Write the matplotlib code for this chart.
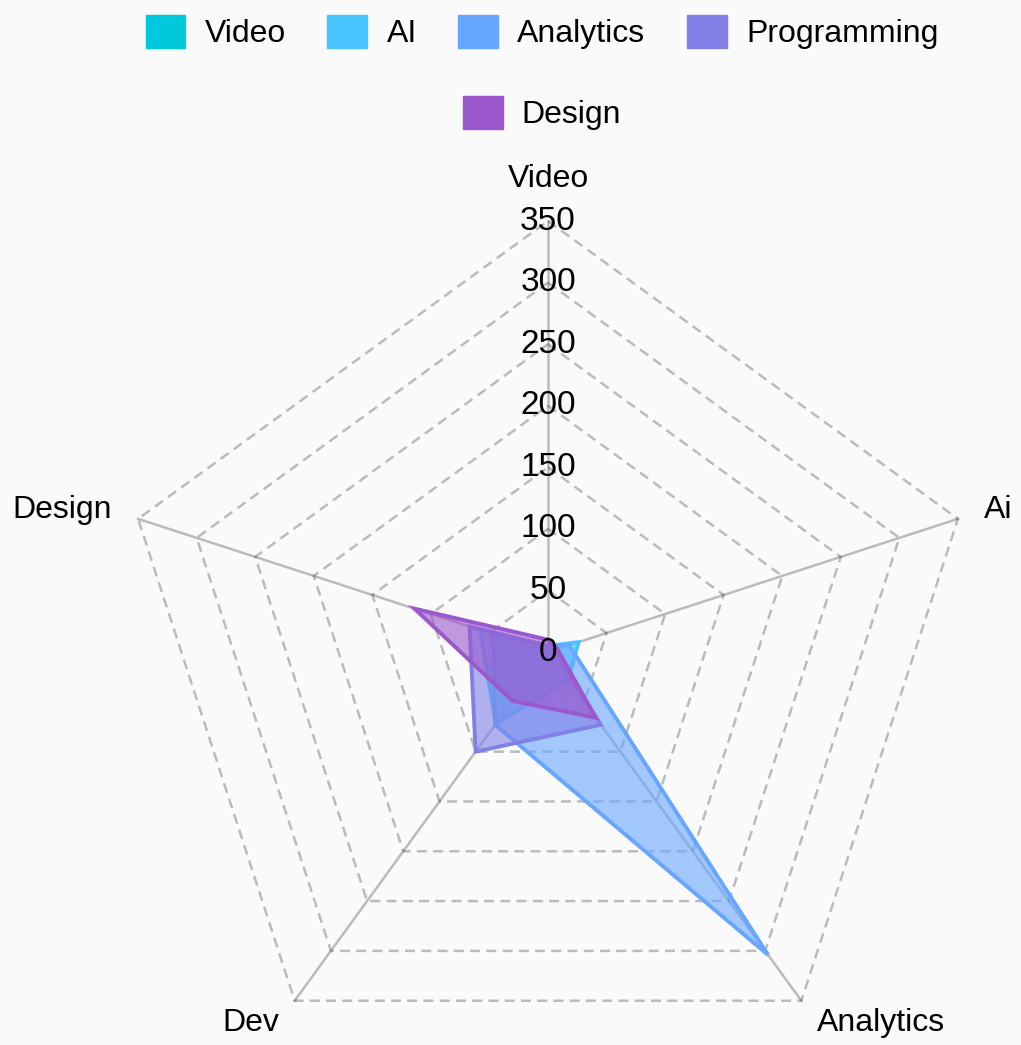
import numpy as np
import matplotlib
matplotlib.use('Agg')
import matplotlib.pyplot as plt
from matplotlib.patches import Patch

plt.rcParams['font.family'] = ['Liberation Sans', 'DejaVu Sans']

# axis names and radial scale
axes_labels = ['Video', 'Ai', 'Analytics', 'Dev', 'Design']
ticks = [0, 50, 100, 150, 200, 250, 300, 350]

# one list per skill series, values in axis order
series_names = ['Video', 'AI', 'Analytics', 'Programming', 'Design']
video = [4, 6, 5, 6, 6]
ai = [5, 26, 28, 72, 58]
analytics = [5, 18, 304, 73, 47]
programming = [5, 5, 73, 100, 67]
design = [10, 8, 66, 49, 114]
colors = ['#00C9DB', '#48C4FF', '#66A6FF', '#8080E6', '#9B57CC']

n = len(axes_labels)
theta = np.linspace(0, 2 * np.pi, n, endpoint=False)
theta_c = np.append(theta, theta[0])

fig = plt.figure(figsize=(10.21, 10.45), dpi=100, facecolor='#fafafa')
ax = fig.add_axes([0.1146, -0.0364, 0.8443, 0.8249], projection='polar')
ax.set_facecolor('none')
ax.set_theta_zero_location('N')
ax.set_theta_direction(-1)
ax.set_ylim(0, 350)
ax.set_xticks([])
ax.set_yticks([])
ax.grid(False)
ax.spines['polar'].set_visible(False)

grid_kw = dict(color='black', alpha=0.25, lw=1.8, clip_on=False)
# dashed pentagon rings
for r in ticks[1:]:
    ax.plot(theta_c, [r] * (n + 1), ls=(0, (4, 2.5)), **grid_kw)
# spokes
for t in theta:
    ax.plot([t, t], [0, 350], ls='-', **grid_kw)

for name, vals, c in zip(series_names, [video, ai, analytics, programming, design], colors):
    v = np.append(vals, vals[0])
    ax.fill(theta_c, v, color=c, alpha=0.6, lw=0, zorder=3)
    ax.plot(theta_c, v, color=c, lw=2.8, zorder=3, solid_joinstyle='miter')

# radial tick labels along the Video spoke
for r in ticks:
    ax.text(0, r, str(r), ha='center', va='center', fontsize=24, zorder=6)

# axis names
label_pos = [('center', 'bottom'), ('left', 'center'), ('left', 'center'),
             ('right', 'center'), ('right', 'center')]
for t, lab, (ha, va) in zip(theta, axes_labels, label_pos):
    ax.text(t, 372, lab, ha=ha, va=va, fontsize=23)

handles = [Patch(facecolor=c, edgecolor=c) for c in colors]
leg_kw = dict(frameon=False, fontsize=23, handlelength=1.25, handleheight=1.25,
              handletextpad=0.6, columnspacing=1.3, loc='center')
fig.legend(handles[:4], series_names[:4], ncol=4,
           bbox_to_anchor=(542 / 1021, 1 - 32 / 1045), **leg_kw)
fig.legend(handles[4:], series_names[4:], ncol=1,
           bbox_to_anchor=(542 / 1021, 1 - 113 / 1045), **leg_kw)

fig.savefig('out.png', dpi=100, facecolor=fig.get_facecolor())
